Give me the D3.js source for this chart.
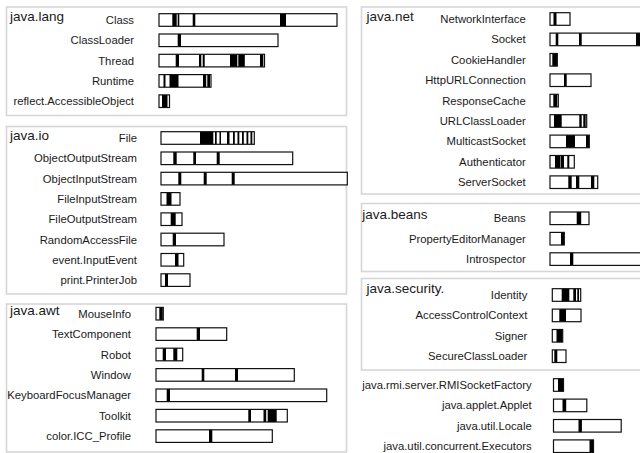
<!DOCTYPE html>
<html>
<head>
<meta charset="utf-8">
<script src="https://cdn.jsdelivr.net/npm/d3@7"></script>
<style>
  html, body { margin: 0; padding: 0; background: #fff; }
  svg { display: block; }
  text { font-family: "Liberation Sans", Arial, Helvetica, sans-serif; fill: #1a1a1a; }
</style>
</head>
<body>
<svg id="chart" width="640" height="453"></svg>
<script>
// ---------- DATA ----------
// sizes = class length (units), calls = [offset, width] of black marks within each class bar
const groupNames = ["java.lang", "java.io", "java.awt", "java.net", "java.beans", "java.security.", ""];

const langClasses = ["Class", "ClassLoader", "Thread", "Runtime", "reflect.AccessibleObject"];
const langSizes = [178, 119, 105.5, 52, 10.5];
const langCalls = [
  [[13.3, 4.4], [18.7, 1.6], [33.7, 2.6], [121, 6]],
  [[18.7, 3.3]],
  [[16.7, 3.3], [40, 2.3], [43.7, 2], [71, 7.3], [79.3, 6.5], [101, 3.3]],
  [[4.5, 2], [10.5, 9], [44, 3.2], [48.3, 2.7]],
  [[3, 5.5]]
];

const ioClasses = ["File", "ObjectOutputStream", "ObjectInputStream", "FileInputStream", "FileOutputStream", "RandomAccessFile", "event.InputEvent", "print.PrinterJob"];
const ioSizes = [93.3, 131.7, 186.3, 19, 21, 63, 22.7, 29];
const ioCalls = [
  [[39, 13.3], [54, 1.7], [58.5, 1.5], [66, 2.5], [72, 1.8], [76.5, 1.8], [81, 1.8], [85.5, 1.8], [89.5, 1.8]],
  [[12.3, 3.4], [32.3, 2.7], [55.7, 3]],
  [[17.3, 3], [42.7, 3], [70.7, 3]],
  [[5.5, 5]],
  [[9.7, 5]],
  [[11.7, 3.3]],
  [[14, 3.5]],
  [[4, 3]]
];

const awtClasses = ["MouseInfo", "TextComponent", "Robot", "Window", "KeyboardFocusManager", "Toolkit", "color.ICC_Profile"];
const awtSizes = [7.3, 70.7, 26.7, 138.3, 170.7, 131.3, 116.3];
const awtCalls = [
  [[3.3, 3.5]],
  [[40.7, 3.3]],
  [[6.7, 3.3], [17.3, 4]],
  [[45.7, 2.6], [79, 3]],
  [[10.7, 3.3]],
  [[92.3, 2.7], [107.5, 2.7], [111.7, 9]],
  [[53, 3.3]]
];

const netClasses = ["NetworkInterface", "Socket", "CookieHandler", "HttpURLConnection", "ResponseCache", "URLClassLoader", "MulticastSocket", "Authenticator", "ServerSocket"];
const netSizes = [20, 91, 7.3, 41, 8.3, 36.7, 39.3, 24.3, 47.7];
const netCalls = [
  [[3.5, 3]],
  [[5.7, 2.6], [29, 2.7], [86, 4]],
  [[2.3, 5]],
  [[14, 2.7]],
  [[3.3, 4]],
  [[4, 7.7], [29.3, 2.4], [33.3, 2.4]],
  [[16, 9], [36, 3.3]],
  [[5, 5], [10.5, 3.5], [17.3, 2]],
  [[18.3, 3.4], [26, 3.3], [41, 3.3]]
];

const beansClasses = ["Beans", "PropertyEditorManager", "Introspector"];
const beansSizes = [39, 14.3, 91];
const beansCalls = [
  [[26.7, 4.5]],
  [[11, 3.3]],
  [[20, 3.3]]
];

const securityClasses = ["Identity", "AccessControlContext", "Signer", "SecureClassLoader"];
const securitySizes = [28.4, 28.7, 10.4, 13.7];
const securityCalls = [
  [[9.4, 7.6], [21, 2.7], [25, 1.7]],
  [[7, 6.7]],
  [[4.2, 6]],
  [[2, 3]]
];

const otherClasses = ["java.rmi.server.RMISocketFactory", "java.applet.Applet", "java.util.Locale", "java.util.concurrent.Executors"];
const otherSizes = [10, 33.3, 67.7, 40];
const otherCalls = [
  [[4.5, 5]],
  [[9, 3.7]],
  [[25, 3.4]],
  [[36, 4]]
];

// ---------- LAYOUT ----------
const layouts = [
  { box: [6.5, 7, 340, 108.5], title: [10, 16.7], labelRight: 134, barX: 159, firstY: 20, step: 20.3 },
  { box: [6.5, 126.5, 340, 167.5], title: [10, 135], labelRight: 137, barX: 161, firstY: 138, step: 20.3 },
  { box: [6.5, 304, 340, 148], title: [10, 310.5], labelRight: 131, barX: 156, firstY: 313.7, step: 20.4 },
  { box: [361.5, 7, 320, 187], title: [366.5, 16.7], labelRight: 525.7, barX: 550, firstY: 19, step: 20.4 },
  { box: [361.5, 203.5, 320, 68], title: [362.3, 214], labelRight: 525.7, barX: 550, firstY: 218.3, step: 20.4 },
  { box: [361.5, 278.5, 320, 91.5], title: [366.5, 288.5], labelRight: 527.3, barX: 552.3, firstY: 295, step: 20.4 },
  { box: null, title: null, labelRight: 531.7, barX: 553.5, firstY: 385, step: 20.4 }
];

const groupClasses = [langClasses, ioClasses, awtClasses, netClasses, beansClasses, securityClasses, otherClasses];
const groupSizes = [langSizes, ioSizes, awtSizes, netSizes, beansSizes, securitySizes, otherSizes];
const groupCalls = [langCalls, ioCalls, awtCalls, netCalls, beansCalls, securityCalls, otherCalls];

const svg = d3.select("#chart");
const barH = 12.6;
const x = d3.scaleLinear().domain([0, 100]).range([0, 100]);

groupNames.forEach((name, gi) => {
  const L = layouts[gi];
  const classes = groupClasses[gi];
  const g = svg.append("g");

  if (L.box) {
    g.append("rect")
      .attr("x", L.box[0]).attr("y", L.box[1])
      .attr("width", L.box[2]).attr("height", L.box[3])
      .attr("fill", "none").attr("stroke", "#d6d6d6").attr("stroke-width", 1.6);
  }
  if (L.title && name) {
    g.append("text")
      .attr("x", L.title[0]).attr("y", L.title[1])
      .attr("dy", "0.35em")
      .style("font-size", "13.5px")
      .text(name);
  }

  const y = d3.scalePoint()
    .domain(classes)
    .range([L.firstY, L.firstY + (classes.length - 1) * L.step]);

  const rows = g.selectAll("g.row")
    .data(classes.map((c, i) => ({ name: c, size: groupSizes[gi][i], calls: groupCalls[gi][i] })))
    .join("g").attr("class", "row");

  rows.append("text")
    .attr("x", L.labelRight)
    .attr("y", d => y(d.name))
    .attr("dy", "0.36em")
    .attr("text-anchor", "end")
    .style("font-size", "11.3px")
    .text(d => d.name);

  rows.append("rect")
    .attr("x", L.barX)
    .attr("y", d => y(d.name) - barH / 2)
    .attr("width", d => x(d.size))
    .attr("height", barH)
    .attr("fill", "#fff");

  rows.each(function (d) {
    d3.select(this).selectAll("rect.mark")
      .data(d.calls)
      .join("rect").attr("class", "mark")
      .attr("x", c => L.barX + x(c[0]))
      .attr("y", y(d.name) - barH / 2)
      .attr("width", c => x(c[1]))
      .attr("height", barH)
      .attr("fill", "#000");
  });

  rows.append("rect")
    .attr("x", L.barX)
    .attr("y", d => y(d.name) - barH / 2)
    .attr("width", d => x(d.size))
    .attr("height", barH)
    .attr("fill", "none")
    .attr("stroke", "#111")
    .attr("stroke-width", 1.2);
});
</script>
</body>
</html>
